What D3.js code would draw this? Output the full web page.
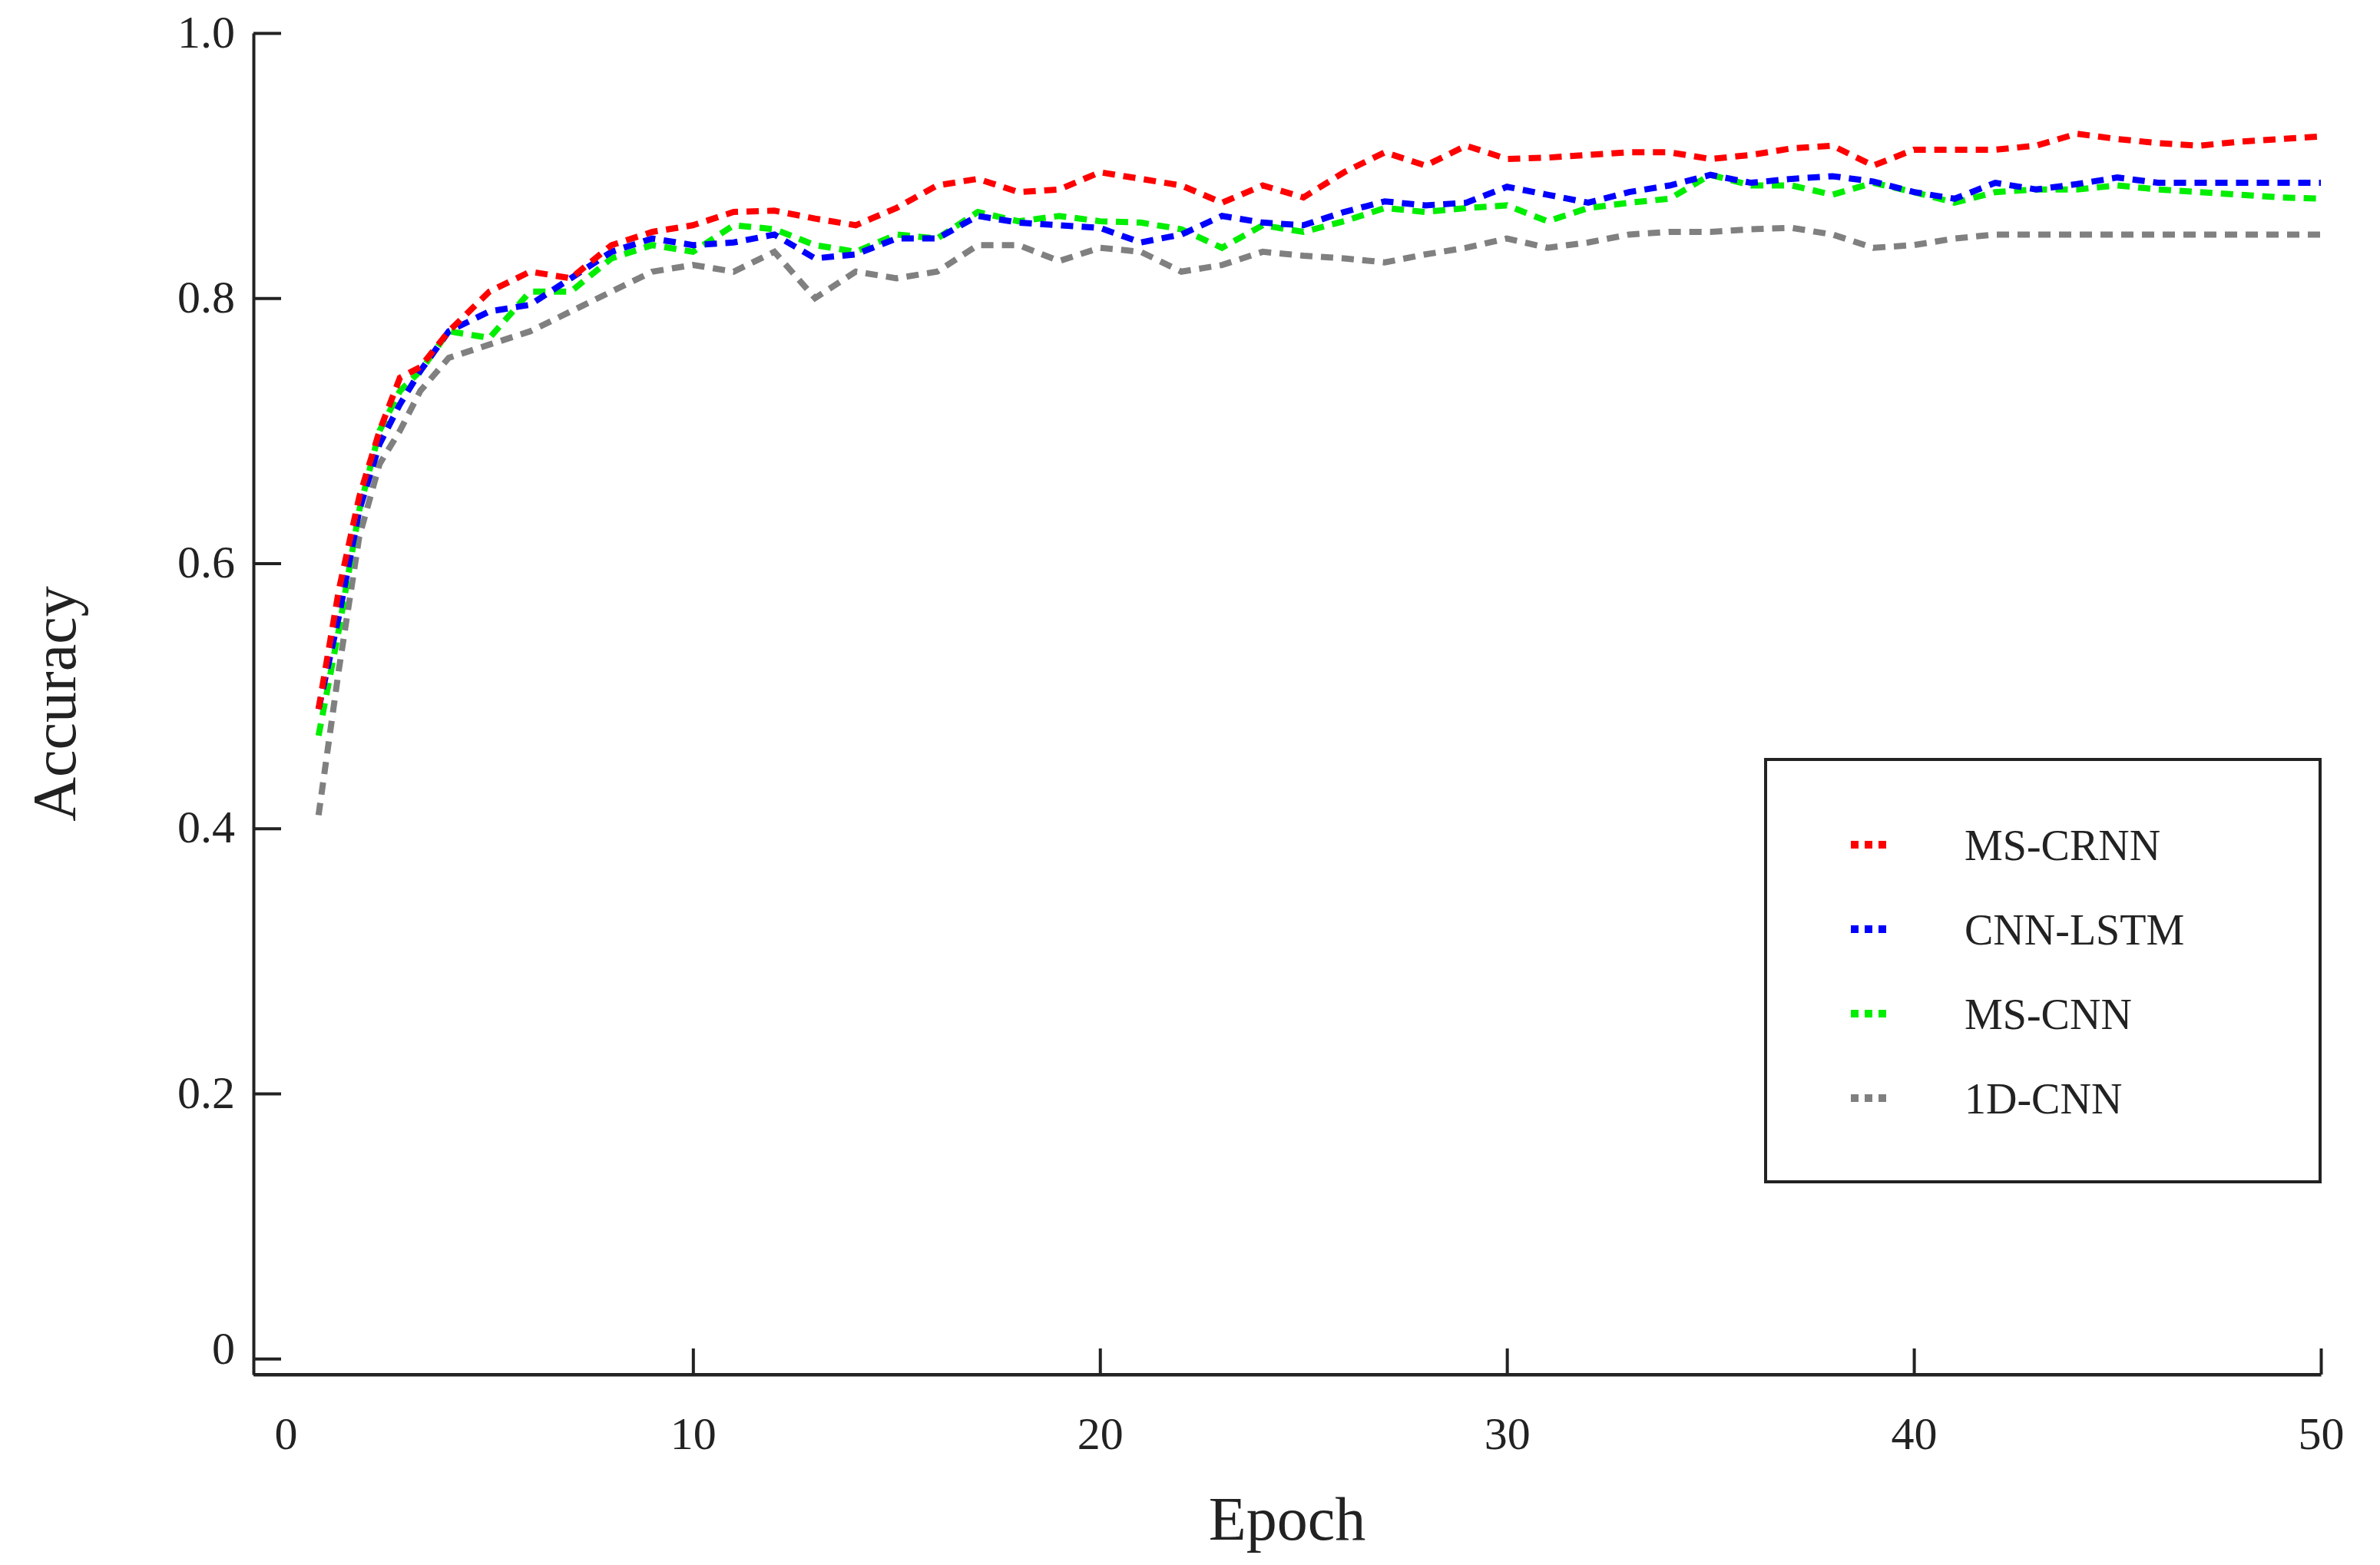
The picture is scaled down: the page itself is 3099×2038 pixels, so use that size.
<!DOCTYPE html>
<html><head><meta charset="utf-8">
<script src="https://cdn.jsdelivr.net/npm/d3@7"></script>
<style>body{margin:0;background:#fff}svg text{font-family:"Liberation Serif","DejaVu Serif",serif;fill:#222}</style>
</head><body><svg id="c" width="3099" height="2038"></svg>
<script>
const epochs=[0.8,1.3,1.8,2.3,2.8,3.3,4,5,6,7,8,9,10,11,12,13,14,15,16,17,18,19,20,21,22,23,24,25,26,27,28,29,30,31,32,33,34,35,36,37,38,39,40,41,42,43,44,45,46,47,48,49,50];
const msCrnn=[0.49,0.58,0.65,0.70,0.74,0.748,0.775,0.805,0.82,0.815,0.84,0.85,0.855,0.865,0.866,0.86,0.855,0.868,0.885,0.89,0.88,0.882,0.895,0.89,0.885,0.872,0.885,0.876,0.895,0.91,0.9,0.915,0.905,0.906,0.908,0.91,0.91,0.905,0.908,0.913,0.915,0.9,0.912,0.912,0.912,0.915,0.924,0.92,0.917,0.915,0.918,0.92,0.922];
const cnnLstm=[0.49,0.56,0.64,0.69,0.72,0.745,0.775,0.79,0.795,0.815,0.835,0.845,0.84,0.842,0.848,0.83,0.833,0.845,0.845,0.862,0.857,0.855,0.853,0.842,0.848,0.862,0.857,0.855,0.865,0.873,0.87,0.872,0.884,0.878,0.872,0.88,0.885,0.893,0.887,0.89,0.892,0.888,0.88,0.875,0.887,0.882,0.886,0.891,0.887,0.887,0.887,0.887,0.887];
const msCnn=[0.47,0.55,0.64,0.70,0.73,0.745,0.775,0.77,0.805,0.805,0.83,0.84,0.835,0.855,0.852,0.84,0.835,0.848,0.845,0.865,0.858,0.862,0.858,0.857,0.852,0.838,0.855,0.85,0.858,0.868,0.865,0.868,0.87,0.858,0.868,0.872,0.875,0.893,0.885,0.885,0.878,0.887,0.88,0.872,0.88,0.882,0.882,0.885,0.882,0.88,0.878,0.876,0.875];
const cnn1d=[0.41,0.52,0.62,0.675,0.70,0.73,0.755,0.765,0.775,0.79,0.805,0.82,0.825,0.82,0.835,0.80,0.82,0.815,0.82,0.84,0.84,0.828,0.838,0.835,0.82,0.825,0.835,0.832,0.83,0.827,0.833,0.838,0.845,0.838,0.842,0.848,0.85,0.85,0.852,0.853,0.848,0.838,0.84,0.845,0.848,0.848,0.848,0.848,0.848,0.848,0.848,0.848,0.848];
const seriesNames=["MS-CRNN","CNN-LSTM","MS-CNN","1D-CNN"];
const seriesColors=["#ff0000","#0000ff","#00ee00","#808080"];
const seriesData=[msCrnn,cnnLstm,msCnn,cnn1d];
const xTicks=[0,10,20,30,40,50];
const yTicks=[0,0.2,0.4,0.6,0.8,1.0];

const svg=d3.select("#c");
const L=330,R=3022,T=43,B=1790;
const x=d3.scaleLinear().domain([-0.8,50]).range([L,R]);
const y=d3.scaleLinear().domain([-0.012,1.0]).range([B,T]);

const ax=svg.append("g").attr("transform",`translate(0,${B})`)
 .call(d3.axisBottom(x).tickValues(xTicks.filter(d=>d>0)).tickSizeInner(-34).tickSizeOuter(0).tickPadding(54).tickFormat(d3.format("d")));
const ay=svg.append("g").attr("transform",`translate(${L},0)`)
 .call(d3.axisLeft(y).tickValues(yTicks).tickSizeInner(-36).tickSizeOuter(0).tickPadding(24).tickFormat(d=>d===0?"0":d3.format(".1f")(d)));
[ax,ay].forEach(g=>{g.select(".domain").attr("stroke","#222").attr("stroke-width",4);
 g.selectAll(".tick line").attr("stroke","#222").attr("stroke-width",4);
 g.selectAll("text").attr("font-size",60).attr("font-family","Liberation Serif").attr("fill","#222");});
ay.selectAll("text").attr("dy","0.3em");
ay.selectAll(".tick").filter(d=>d===0).select("text").attr("dy","0.1em");
svg.append("line").attr("x1",L).attr("x2",R).attr("y1",B).attr("y2",B).attr("stroke","#222").attr("stroke-width",4);
svg.append("text").attr("x",x(0)).attr("y",B+54).attr("dy","0.71em").attr("text-anchor","middle").attr("font-size",60).text("0");

svg.append("text").attr("x",(L+R)/2).attr("y",2005).attr("text-anchor","middle").attr("font-size",80).text("Epoch");
svg.append("text").attr("transform",`translate(98,${(T+B)/2}) rotate(-90)`).attr("text-anchor","middle").attr("font-size",80).text("Accuracy");

const line=d3.line().x((d,i)=>x(epochs[i])).y(d=>y(d));
seriesData.slice().reverse().forEach((s,k)=>{
 const i=seriesData.length-1-k;
 svg.append("path").datum(s).attr("d",line).attr("fill","none").attr("stroke",seriesColors[i])
  .attr("stroke-width",8).attr("stroke-dasharray","16,11");
});

const lg=svg.append("g");
lg.append("rect").attr("x",2299).attr("y",989).attr("width",722).attr("height",550).attr("fill","#fff").attr("stroke","#222").attr("stroke-width",4);
seriesNames.forEach((n,i)=>{
 const yy=1100+i*110;
 lg.append("line").attr("x1",2410).attr("x2",2464).attr("y1",yy).attr("y2",yy).attr("stroke",seriesColors[i]).attr("stroke-width",10).attr("stroke-dasharray","10,8");
 lg.append("text").attr("x",2558).attr("y",yy).attr("dy","0.35em").attr("font-size",56).text(n);
});
</script></body></html>
